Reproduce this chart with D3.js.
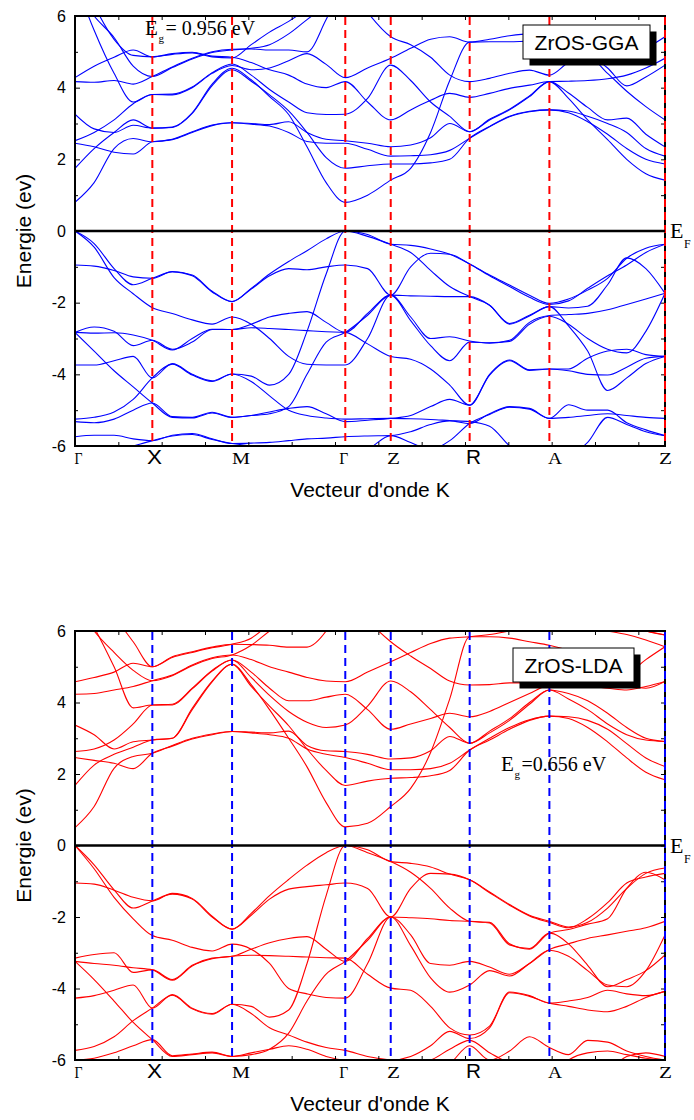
<!DOCTYPE html>
<html>
<head>
<meta charset="utf-8">
<script src="https://cdn.jsdelivr.net/npm/d3@7"></script>
<style>
  body { margin: 0; background: #fff; }
  svg text { font-family: "Liberation Sans", Arial, sans-serif; }
</style>
</head>
<body>
<svg id="chart" width="694" height="1120"></svg>
<script>
// high-symmetry path and the k sample points used for every band
const kTicks = [0, 0.97, 1.97, 3.39, 3.96, 4.95, 5.95, 7.40];
const kLabels = ["Γ", "X", "M", "Γ", "Z", "R", "A", "Z"];
const kGrid = [0, 0.24, 0.49, 0.73, 0.97, 1.22, 1.47, 1.72, 1.97, 2.21, 2.44, 2.68, 2.91, 3.15, 3.39,
               3.67, 3.96, 4.21, 4.46, 4.70, 4.95, 5.20, 5.45, 5.70, 5.95, 6.19, 6.43, 6.68, 6.92, 7.16, 7.40];
const energyTicks = [-6, -4, -2, 0, 2, 4, 6];
const energyMinor = [-5, -3, -1, 1, 3, 5];

// GGA bands (eV), one array per band, sampled on kGrid
const ggaCond = [
  [0.80,1.35,2.30,2.58,2.49, 2.56,2.77,2.96,3.02, 2.98,2.93,2.75,2.50,2.45,2.45, 2.28,2.09, 2.10,2.13,2.25,2.59, 2.91,3.19,3.33,3.38, 3.30,3.05,2.70,2.30,2.00,1.87],
  [2.45,2.35,2.20,2.15,2.49, 2.55,2.75,2.94,3.02, 3.00,2.97,3.05,2.75,2.56,2.52, 2.45,2.35, 2.40,2.60,3.00,2.77, 3.10,3.38,3.75,4.17, 3.70,3.10,2.55,2.00,1.60,1.42],
  [1.75,2.30,2.75,3.10,2.87, 2.90,3.30,4.10,4.54, 4.22,3.75,3.25,2.35,1.35,0.80, 1.00,1.42, 1.75,2.75,4.20,5.27, 5.28,5.28,5.30,5.30, 5.20,4.95,4.55,4.05,4.30,4.63],
  [2.52,2.75,3.10,3.55,3.81, 3.82,4.02,4.42,4.66, 4.35,3.95,3.60,3.30,3.25,3.26, 3.70,4.63, 4.20,3.60,3.20,2.77, 3.12,3.40,3.77,4.17, 3.85,3.45,3.10,3.15,2.70,2.35],
  [3.26,2.85,2.75,2.95,2.87, 2.89,3.28,4.06,4.50, 4.18,3.80,3.35,2.75,2.05,1.75, 1.82,1.87, 1.87,1.90,2.00,2.59, 2.92,3.20,3.34,3.38, 3.35,3.20,3.00,2.75,2.30,2.09],
  [7.00,5.60,4.40,3.60,3.81, 3.80,4.00,4.40,4.62, 4.50,4.55,4.75,4.95,4.65,4.28, 4.55,4.82, 5.10,5.35,5.42,5.27, 5.35,5.45,5.50,5.50, 5.35,5.20,5.00,4.90,5.10,5.42],
  [4.17,4.15,4.20,4.10,4.31, 4.58,4.82,5.00,5.07, 5.08,5.05,5.05,5.00,5.90,7.00, 6.10,5.42, 5.20,4.85,4.35,4.17, 4.26,4.40,4.49,4.35, 4.70,4.87,4.40,3.90,3.47,3.10],
  [4.28,4.60,4.85,5.05,4.86, 4.95,4.99,4.88,4.85, 4.70,4.50,4.35,4.10,4.00,4.17, 3.60,3.10, 3.38,3.65,3.84,3.73, 3.84,3.98,4.07,4.17, 4.18,4.20,4.25,4.35,4.55,4.82],
  [7.50,6.30,5.35,4.90,4.86, 4.93,4.97,4.86,4.83, 5.20,5.55,5.85,6.20,6.60,7.50, 7.20,7.00, 7.00,7.00,7.00,7.00, 7.00,7.00,7.00,7.00, 7.00,6.80,6.60,6.40,6.30,6.30],
  [6.80,6.00,5.40,4.60,4.31, 4.56,4.80,4.98,5.05, 5.10,5.20,5.50,5.90,6.30,6.80, 6.90,7.00, 7.00,7.00,7.00,7.00, 7.00,7.00,7.00,7.00, 7.00,7.00,7.00,7.00,7.00,7.00]
];
const ggaVal = [
  [0,-0.35,-1.05,-1.50,-1.32, -1.14,-1.25,-1.70,-1.97, -1.60,-1.20,-0.85,-0.55,-0.22,0, -0.10,-0.37, -0.40,-0.50,-0.65,-0.92, -1.23,-1.51,-1.79,-2.02, -1.90,-1.65,-1.32,-0.76,-0.48,-0.37],
  [0,-0.45,-1.30,-1.75,-2.14, -2.30,-2.48,-2.60,-2.40, -2.60,-3.00,-3.50,-3.72,-3.74,-3.74, -3.00,-1.79, -2.40,-3.00,-2.95,-3.07, -3.13,-3.05,-2.55,-2.36, -2.33,-2.30,-2.20,-2.05,-1.90,-1.74],
  [-0.95,-0.98,-1.10,-1.28,-1.32, -1.13,-1.23,-1.68,-1.97, -1.62,-1.25,-1.05,-1.08,-1.00,-0.95, -1.05,-1.79, -1.00,-0.62,-0.65,-0.92, -1.25,-1.55,-1.85,-2.05, -1.95,-1.60,-1.25,-0.95,-0.60,-0.37],
  [-2.83,-2.68,-2.80,-3.20,-3.05, -3.30,-3.10,-2.75,-2.75, -2.60,-2.40,-2.30,-2.25,-2.55,-2.83, -2.30,-1.79, -1.81,-1.82,-1.83,-1.83, -2.07,-2.58,-2.35,-2.11, -2.15,-2.10,-1.50,-0.75,-1.05,-1.74],
  [-2.83,-2.85,-2.84,-2.90,-3.05, -3.32,-3.00,-2.74,-2.75, -2.70,-2.72,-2.75,-2.78,-2.81,-2.83, -3.15,-3.50, -3.58,-3.85,-4.30,-4.86, -4.00,-3.60,-3.87,-3.85, -3.85,-3.55,-3.35,-3.30,-3.45,-3.50],
  [-2.83,-3.35,-3.90,-4.35,-4.80, -5.20,-5.22,-5.08,-5.20, -5.15,-5.05,-4.95,-4.90,-5.10,-5.32, -5.28,-5.23, -5.15,-4.90,-4.70,-4.86, -4.02,-3.62,-3.89,-3.85, -3.90,-4.00,-4.02,-3.80,-3.55,-3.50],
  [-3.74,-3.74,-3.62,-3.50,-4.10, -3.70,-4.00,-4.18,-3.99, -4.05,-4.30,-4.00,-2.80,-1.20,0, -0.15,-0.37, -0.60,-1.10,-1.55,-1.83, -2.07,-2.60,-2.37,-2.11, -2.65,-3.35,-4.45,-4.10,-3.70,-3.50],
  [-5.25,-5.20,-5.05,-4.70,-4.10, -3.72,-4.02,-4.20,-3.99, -4.20,-4.60,-5.00,-5.15,-5.22,-5.25, -5.24,-5.23, -5.24,-5.26,-5.29,-5.32, -5.45,-6.00,-6.40,-6.50, -6.30,-5.90,-5.20,-5.40,-5.60,-5.71],
  [-5.32,-5.35,-5.25,-5.00,-4.80, -5.18,-5.20,-5.06,-5.20, -5.15,-5.10,-4.90,-4.00,-3.10,-2.83, -2.35,-1.79, -2.50,-3.20,-3.62,-3.10, -3.12,-3.08,-2.60,-2.38, -2.60,-3.00,-3.30,-3.40,-2.80,-1.74],
  [-5.74,-5.70,-5.70,-5.80,-5.85, -5.70,-5.65,-5.80,-5.93, -5.92,-5.90,-5.85,-5.80,-5.78,-5.74, -5.72,-5.71, -5.60,-5.40,-5.30,-5.37, -5.10,-4.90,-4.95,-5.23, -4.85,-5.00,-5.00,-5.35,-5.55,-5.71],
  [-6.40,-6.30,-6.15,-6.00,-5.85, -5.72,-5.68,-5.82,-5.93, -6.00,-6.10,-6.20,-6.30,-6.35,-6.30, -6.10,-5.71, -5.90,-6.10,-5.85,-5.37, -5.12,-4.92,-4.97,-5.23, -5.20,-5.15,-5.10,-5.15,-5.20,-5.23]
];

// LDA bands (eV)
const ldaCond = [
  [0.50,1.09,2.16,2.49,2.58, 2.80,3.00,3.12,3.19, 3.15,3.10,3.00,2.70,2.55,2.46, 2.30,2.12, 2.12,2.15,2.30,2.67, 3.00,3.30,3.52,3.62, 3.60,3.50,3.25,2.85,2.45,2.21],
  [2.46,2.38,2.30,2.15,2.58, 2.78,2.98,3.10,3.19, 3.17,3.15,3.20,2.80,2.65,2.63, 2.55,2.42, 2.45,2.65,3.05,2.86, 3.20,3.55,4.00,4.35, 4.25,4.05,3.70,3.30,3.00,2.91],
  [1.68,2.25,2.55,2.75,2.95, 3.00,3.84,4.60,5.07, 4.50,3.80,3.00,2.20,1.20,0.52, 0.62,1.09, 1.60,2.60,4.10,5.84, 5.84,5.80,5.70,5.60, 5.45,5.20,4.90,4.50,4.40,4.59],
  [2.63,2.70,2.95,3.40,3.93, 3.95,4.40,4.90,5.19, 4.70,4.20,3.75,3.45,3.30,3.37, 3.90,4.60, 4.30,3.80,3.30,2.86, 3.15,3.50,3.95,4.35, 4.10,3.80,3.40,3.10,2.95,2.91],
  [3.37,3.10,2.70,2.90,2.95, 3.00,3.80,4.58,5.07, 4.45,3.90,3.35,2.70,2.10,1.68, 1.80,1.88, 1.90,1.95,2.10,2.67, 2.95,3.25,3.50,3.62, 3.55,3.30,2.90,2.45,2.05,1.84],
  [7.00,6.10,5.00,3.85,3.93, 3.93,4.38,4.88,5.19, 4.85,4.40,4.05,4.05,4.15,4.23, 3.80,3.25, 3.40,3.55,3.70,3.60, 3.75,4.00,4.25,4.50, 4.55,4.60,4.70,4.80,5.20,5.56],
  [4.23,4.25,4.35,4.45,4.61, 4.77,5.05,5.25,5.33, 5.20,5.00,4.85,4.70,4.60,4.58, 4.85,5.14, 5.40,5.65,5.80,5.84, 5.90,6.00,6.10,6.20, 6.20,6.10,6.00,5.90,5.75,5.56],
  [4.58,4.70,4.85,5.10,5.00, 5.28,5.42,5.55,5.63, 5.62,5.60,5.55,5.55,6.00,7.00, 6.30,5.70, 5.30,4.95,4.60,4.49, 4.50,4.55,4.55,4.50, 4.45,4.45,4.40,4.35,4.45,4.59],
  [8.00,7.00,6.40,5.70,5.00, 5.26,5.40,5.53,5.63, 5.80,6.20,6.60,7.00,7.50,8.00, 7.50,7.00, 7.00,7.00,6.80,6.50, 6.50,6.50,6.50,6.50, 6.40,6.30,6.20,6.10,6.00,5.89],
  [6.80,6.00,5.40,4.90,4.61, 4.75,5.03,5.23,5.33, 5.60,6.00,6.40,6.70,6.90,6.80, 7.00,7.00, 7.00,7.00,7.00,7.00, 7.00,7.00,7.00,7.00, 7.00,6.80,6.50,6.20,6.00,5.89]
];
const ldaVal = [
  [0,-0.54,-1.24,-1.75,-1.55, -1.36,-1.50,-2.00,-2.34, -1.90,-1.40,-0.95,-0.55,-0.20,0, -0.12,-0.45, -0.50,-0.60,-0.80,-0.96, -1.30,-1.65,-1.95,-2.12, -2.28,-2.15,-1.75,-1.20,-0.78,-0.63],
  [0,-0.65,-1.45,-2.05,-2.52, -2.65,-2.85,-2.95,-2.76, -2.90,-3.30,-4.00,-4.15,-4.25,-4.27, -3.30,-2.00, -2.50,-3.30,-3.35,-3.24, -3.40,-3.60,-3.30,-2.91, -2.75,-2.60,-2.50,-2.40,-2.30,-2.12],
  [-1.05,-1.08,-1.25,-1.45,-1.55, -1.34,-1.48,-1.98,-2.34, -1.95,-1.50,-1.22,-1.15,-1.10,-1.05, -1.20,-2.00, -1.20,-0.78,-0.80,-0.96, -1.32,-1.67,-1.97,-2.15, -2.30,-2.05,-1.60,-1.05,-0.88,-0.78],
  [-3.15,-3.05,-3.00,-3.55,-3.48, -3.75,-3.35,-3.15,-3.10, -2.90,-2.72,-2.60,-2.55,-2.90,-3.24, -2.60,-2.00, -2.02,-2.05,-2.10,-2.12, -2.15,-2.75,-2.90,-2.45, -2.35,-2.20,-2.05,-1.20,-0.75,-0.96],
  [-3.24,-3.30,-3.35,-3.42,-3.48, -3.77,-3.37,-3.17,-3.10, -3.07,-3.08,-3.10,-3.12,-3.14,-3.15, -3.60,-3.99, -4.05,-4.50,-5.10,-5.30, -5.05,-4.10,-4.20,-4.41, -4.35,-4.25,-4.05,-4.15,-4.20,-4.08],
  [-3.24,-3.75,-4.35,-4.95,-5.43, -5.90,-5.85,-5.80,-5.90, -5.80,-5.70,-5.60,-5.70,-5.90,-6.00, -6.00,-6.00, -5.90,-5.60,-5.20,-5.40, -5.10,-4.12,-4.22,-4.41, -4.50,-4.60,-4.65,-4.50,-4.25,-4.08],
  [-4.27,-4.20,-4.05,-3.90,-4.55, -4.17,-4.55,-4.70,-4.44, -4.50,-4.80,-4.60,-3.30,-1.40,0, -0.20,-0.45, -0.75,-1.20,-1.75,-2.12, -2.17,-2.78,-2.88,-2.45, -2.75,-3.35,-3.95,-3.75,-3.50,-3.06],
  [-5.73,-5.62,-5.35,-4.90,-4.55, -4.19,-4.57,-4.72,-4.44, -4.70,-5.10,-5.30,-5.50,-5.65,-5.73, -5.90,-6.00, -6.10,-6.00,-5.70,-5.45, -5.80,-6.10,-6.40,-6.50, -6.60,-6.50,-6.30,-5.90,-5.80,-5.90],
  [-6.00,-5.95,-5.80,-5.60,-5.43, -5.88,-5.83,-5.78,-5.90, -5.85,-5.70,-5.25,-4.35,-3.60,-3.24, -2.65,-2.00, -2.80,-3.70,-4.10,-3.90, -3.50,-3.65,-3.30,-2.93, -3.10,-3.50,-3.90,-3.95,-3.50,-2.50],
  [-6.40,-6.40,-6.50,-6.60,-6.60, -6.50,-6.40,-6.40,-6.50, -6.50,-6.40,-6.30,-6.30,-6.35,-6.40, -6.30,-6.20, -6.30,-6.30,-6.10,-5.60, -6.00,-5.75,-5.35,-5.65, -5.85,-5.45,-5.50,-5.75,-5.90,-6.00],
  [-7.00,-7.00,-7.00,-7.00,-7.00, -7.00,-7.00,-7.00,-7.00, -7.00,-7.00,-7.00,-7.00,-7.00,-7.00, -6.80,-6.60, -6.60,-6.60,-6.60,-6.60, -6.60,-6.60,-6.60,-6.50, -6.00,-5.80,-5.75,-5.85,-5.95,-6.00]
];

const svg = d3.select("#chart");
const left = 75, right = 665;
const x = d3.scaleLinear().domain([kTicks[0], kTicks[kTicks.length - 1]]).range([left, right]);

// label tweaks (shift from the tick line, glyph width, font)
const labelStyle = [
  { dx: 3.5, w: 8, serif: true }, { dx: 2.2, w: 15, serif: false }, { dx: 9, w: 18, serif: true },
  { dx: -1.5, w: 9, serif: true }, { dx: 2.8, w: 13, serif: true }, { dx: 3.8, w: 15, serif: false },
  { dx: 5.7, w: 14, serif: true }, { dx: 0.5, w: 13, serif: true }
];

const panels = [
  { top: 16, bottom: 446, bandColor: "#0000ff", dashColor: "#ff0000", cond: ggaCond, val: ggaVal,
    name: "ZrOS-GGA", box: [523, 25, 127, 34], gap: "= 0.956 eV", gapPos: [145, 35] },
  { top: 631, bottom: 1060, bandColor: "#ff0000", dashColor: "#0000ff", cond: ldaCond, val: ldaVal,
    name: "ZrOS-LDA", box: [513, 648, 121, 34], gap: "=0.656 eV", gapPos: [501, 771] }
];

panels.forEach((p, idx) => {
  const y = d3.scaleLinear().domain([-6, 6]).range([p.bottom, p.top]);
  const g = svg.append("g");

  svg.append("clipPath").attr("id", "clip" + idx).append("rect")
    .attr("x", left).attr("y", p.top).attr("width", right - left).attr("height", p.bottom - p.top);

  // bands
  const line = d3.line().x((d, i) => x(kGrid[i])).y(d => y(d)).curve(d3.curveMonotoneX);
  g.append("g").attr("clip-path", `url(#clip${idx})`)
    .selectAll("path").data(p.cond.concat(p.val)).join("path")
    .attr("d", line).attr("fill", "none").attr("stroke", p.bandColor).attr("stroke-width", 1.1);

  // frame
  g.append("rect").attr("x", left).attr("y", p.top).attr("width", right - left).attr("height", p.bottom - p.top)
    .attr("fill", "none").attr("stroke", "#000").attr("stroke-width", 2);

  // y axes: labels on the left, inward ticks both sides
  const yl = g.append("g").attr("transform", `translate(${left},0)`)
    .call(d3.axisLeft(y).tickValues(energyTicks).tickSize(-5).tickPadding(9).tickFormat(d => String(d)));
  yl.select(".domain").remove();
  yl.selectAll("text").attr("font-size", 16).attr("fill", "#000")
    .style("font-family", "'Liberation Sans', Arial, sans-serif");
  g.append("g").attr("transform", `translate(${left},0)`)
    .call(d3.axisLeft(y).tickValues(energyMinor).tickSize(-3).tickFormat(""))
    .select(".domain").remove();
  g.append("g").attr("transform", `translate(${right},0)`)
    .call(d3.axisRight(y).tickValues(energyTicks.concat(energyMinor)).tickSize(-4).tickFormat(""))
    .select(".domain").remove();

  // x minor ticks on top and bottom edges
  const xMinor = d3.range(0.5435, kTicks[kTicks.length - 1] - 0.1, 0.5435);
  g.append("g").attr("transform", `translate(0,${p.bottom})`)
    .call(d3.axisBottom(x).tickValues(xMinor).tickSize(-4).tickFormat(""))
    .select(".domain").remove();
  g.append("g").attr("transform", `translate(0,${p.top})`)
    .call(d3.axisTop(x).tickValues(xMinor).tickSize(-4).tickFormat(""))
    .select(".domain").remove();
  g.selectAll(".tick line").attr("stroke", "#000").attr("stroke-width", 1);

  // dashed lines at the high-symmetry points
  g.selectAll("line.sym").data(kTicks.slice(1)).join("line").attr("class", "sym")
    .attr("x1", d => x(d)).attr("x2", d => x(d)).attr("y1", p.top + 1).attr("y2", p.bottom - 1)
    .attr("stroke", p.dashColor).attr("stroke-width", 2).attr("stroke-dasharray", "8,5");

  // Fermi level
  g.append("line").attr("x1", left).attr("x2", right).attr("y1", y(0)).attr("y2", y(0))
    .attr("stroke", "#000").attr("stroke-width", 2.6);
  const ef = g.append("text").attr("x", 670).attr("y", y(0) + 7)
    .style("font-family", "'Liberation Serif', 'Times New Roman', serif");
  ef.append("tspan").attr("font-size", 22).text("E");
  ef.append("tspan").attr("x", 684).attr("y", y(0) + 17).attr("font-size", 12).text("F");

  // k-point labels
  g.selectAll("text.klab").data(kLabels).join("text").attr("class", "klab")
    .attr("x", (d, i) => x(kTicks[i]) + labelStyle[i].dx)
    .attr("y", p.bottom + 18)
    .attr("text-anchor", "middle")
    .attr("font-size", (d, i) => labelStyle[i].serif ? 16 : 21)
    .attr("textLength", (d, i) => labelStyle[i].w)
    .attr("lengthAdjust", "spacingAndGlyphs")
    .style("font-family", (d, i) => labelStyle[i].serif ? "'Liberation Serif', 'Times New Roman', serif" : "'Liberation Sans', Arial, sans-serif")
    .text(d => d);

  // axis titles
  g.append("text").attr("x", (left + right) / 2).attr("y", p.bottom + 51)
    .attr("text-anchor", "middle").attr("font-size", 21).text("Vecteur d'onde K");
  g.append("text").attr("transform", `translate(31,${(p.top + p.bottom) / 2}) rotate(-90)`)
    .attr("text-anchor", "middle").attr("font-size", 21).text("Energie (ev)");

  // legend box with shadow
  const [bx, by, bw, bh] = p.box;
  g.append("rect").attr("x", bx + 6.5).attr("y", by + 6.5).attr("width", bw).attr("height", bh).attr("fill", "#000");
  g.append("rect").attr("x", bx).attr("y", by).attr("width", bw).attr("height", bh)
    .attr("fill", "#fff").attr("stroke", "#000").attr("stroke-width", 1);
  g.append("text").attr("x", bx + bw / 2).attr("y", by + bh / 2 + 7.5)
    .attr("text-anchor", "middle").attr("font-size", 21).text(p.name);

  // band gap annotation: E, subscript g, then the value
  const [gx, gy] = p.gapPos;
  const eg = g.append("text").style("font-family", "'Liberation Serif', 'Times New Roman', serif");
  eg.append("tspan").attr("x", gx).attr("y", gy).attr("font-size", 21).text("E");
  eg.append("tspan").attr("x", gx + 13.5).attr("y", gy + 7).attr("font-size", 11).text("g");
  eg.append("tspan").attr("x", gx + 20.5).attr("y", gy).attr("font-size", 20).text(p.gap);
});
</script>
</body>
</html>
